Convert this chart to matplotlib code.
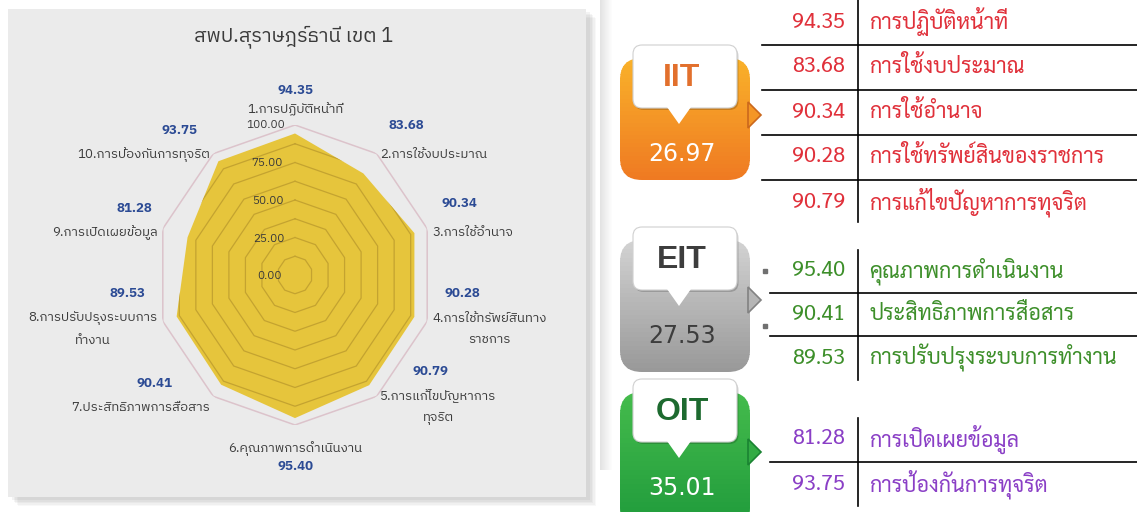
import numpy as np
import matplotlib
matplotlib.use("Agg")
import matplotlib.pyplot as plt
from matplotlib.patches import FancyBboxPatch, Rectangle, Polygon

# data
title = "สพป.สุราษฎร์ธานี เขต 1"
categories = ["1.การปฏิบัติหน้าที่", "2.การใช้งบประมาณ", "3.การใช้อำนาจ",
              "4.การใช้ทรัพย์สินทาง\nราชการ", "5.การแก้ไขปัญหาการ\nทุจริต",
              "6.คุณภาพการดำเนินงาน", "7.ประสิทธิภาพการสื่อสาร",
              "8.การปรับปรุงระบบการ\nทำงาน", "9.การเปิดเผยข้อมูล",
              "10.การป้องกันการทุจริต"]
scores = [94.35, 83.68, 90.34, 90.28, 90.79, 95.40, 90.41, 89.53, 81.28, 93.75]
r_ticks = [0, 25, 50, 75, 100]

groups = ["IIT", "EIT", "OIT"]
group_totals = ["26.97", "27.53", "35.01"]
iit_items = ["การปฏิบัติหน้าที่", "การใช้งบประมาณ", "การใช้อำนาจ",
             "การใช้ทรัพย์สินของราชการ", "การแก้ไขปัญหาการทุจริต"]
iit_vals = [94.35, 83.68, 90.34, 90.28, 90.79]
eit_items = ["คุณภาพการดำเนินงาน", "ประสิทธิภาพการสื่อสาร", "การปรับปรุงระบบการทำงาน"]
eit_vals = [95.40, 90.41, 89.53]
oit_items = ["การเปิดเผยข้อมูล", "การป้องกันการทุจริต"]
oit_vals = [81.28, 93.75]

# value-label horizontal nudges (pixels), one per spoke
value_dx = [0, 9, 9, 12, 33, 0, -38, -12, -5, -13]

W, H = 1137, 512
thai_loopless = ["IBM Plex Sans Thai", "DejaVu Sans"]
thai_looped = ["Sarabun", "DejaVu Sans"]

fig = plt.figure(figsize=(W / 100, H / 100), dpi=100, facecolor="white")

# background canvas in pixel units
bg = fig.add_axes([0, 0, 1, 1])
bg.set_xlim(0, W)
bg.set_ylim(H, 0)
bg.axis("off")

# left panel with soft shadow
for i, a in enumerate([0.05, 0.06, 0.07, 0.08, 0.09]):
    d = 8 - i * 1.5
    bg.add_patch(Rectangle((10 + d, 10 + d), 578, 488, color="#808080", alpha=a, lw=0))
bg.add_patch(Rectangle((8, 9), 578, 488, color="#ebebeb", lw=0))
bg.text(294, 37, title, ha="center", va="center", fontsize=14.5, color="#3a3a3a",
        family=thai_loopless)

# faint shadow strips at the left of the right panel
for i in range(12):
    bg.add_patch(Rectangle((600 + i, 0), 1, 470, color="#c8c8c8", alpha=0.5 * (1 - i / 12), lw=0))

# radar (slightly narrower than tall, as in the source image)
cx, cy, Rx, Ry = 295, 275, 139, 150
rax = fig.add_axes([(cx - Rx) / W, (H - cy - Ry) / H, 2 * Rx / W, 2 * Ry / H], polar=True)
rax.set_aspect("auto")
rax.set_theta_offset(np.pi / 2)
rax.set_theta_direction(-1)
rax.set_ylim(0, 100)
rax.axis("off")
n = len(scores)
theta = np.arange(n) * 2 * np.pi / n
tc = np.append(theta, theta[0])
vals = np.append(scores, scores[0])
fill = rax.fill(tc, vals, color="#e6c53c", lw=0, zorder=2)[0]
for lev in np.arange(12.5, 100, 12.5):
    ln, = rax.plot(tc, [lev] * (n + 1), color="#c4a330", lw=0.9, zorder=3)
    ln.set_clip_path(fill)
rax.plot(tc, [100] * (n + 1), color="#dcc3cb", lw=1.1, zorder=3)

for t in r_ticks:
    rax.annotate(f"{t:.2f}", (0, t), xytext=(-25 - t * 0.04, 0 if t == 100 else -1),
                 textcoords="offset pixels", ha="center", va="center", fontsize=8.5,
                 color="#3a3a3a", zorder=5, family=thai_loopless, annotation_clip=False)

line_px = 23
for k, (th, lab, v) in enumerate(zip(theta, categories, scores)):
    s, c = np.sin(th), np.cos(th)
    nlines = lab.count("\n") + 1
    if abs(s) < 0.1:
        ha = "center"
        va = "bottom" if c > 0 else "top"
        r_lab = 108 if c > 0 else 111
        dy_lab = -4 if c > 0 else 0
    else:
        ha = "left" if s > 0 else "right"
        va = "center"
        r_lab = 104
        dy_lab = -6
    rax.annotate(lab, (th, r_lab), xytext=(0, dy_lab), textcoords="offset pixels",
                 ha=ha, va=va, fontsize=9.5, color="#3c3c3c", family=thai_loopless,
                 multialignment="center", linespacing=1.85, annotation_clip=False)
    if va == "top":
        dy = -(nlines * line_px + 2)
    elif va == "bottom":
        dy = dy_lab + 26
    else:
        gap = 29 if (s > 0 and c > 0) else 24
        dy = dy_lab + (nlines - 1) * line_px / 2 + gap
    rax.annotate(f"{v:.2f}", (th, r_lab), xytext=(value_dx[k], dy), textcoords="offset pixels",
                 ha=ha, va="center", fontsize=9.5, color="#2b4a94", fontweight="bold",
                 family=thai_loopless, annotation_clip=False)


# speech-bubble badges
def badge(x0, y0, y1, colors, label, label_color, total, total_color, arrow_y):
    w = 130
    steps = 30
    top = np.array(matplotlib.colors.to_rgb(colors[0]))
    bot = np.array(matplotlib.colors.to_rgb(colors[1]))
    body = FancyBboxPatch((x0, y0), w, y1 - y0, boxstyle="round,pad=0,rounding_size=22",
                          fc="none", ec="none")
    bg.add_patch(body)
    for i in range(steps):
        f = i / (steps - 1)
        rr = Rectangle((x0, y0 + (y1 - y0) * i / steps), w, (y1 - y0) / steps + 1,
                       color=top * (1 - f) + bot * f, lw=0)
        bg.add_patch(rr)
        rr.set_clip_path(body)
    # arrow on right side
    bg.add_patch(Polygon([[x0 + w - 2, arrow_y - 13], [x0 + w + 11, arrow_y], [x0 + w - 2, arrow_y + 13]],
                         closed=True, fc=(top + bot) / 2, ec=bot * 0.85, lw=1.2))
    # white bubble
    bx0, by0 = x0 + 13, y0 - 13
    bw, bh = 104, 63
    bg.add_patch(FancyBboxPatch((bx0 + 1.5, by0 + 2), bw, bh, boxstyle="round,pad=0,rounding_size=9",
                                fc="#000000", alpha=0.18, ec="none"))
    bg.add_patch(FancyBboxPatch((bx0, by0), bw, bh, boxstyle="round,pad=0,rounding_size=9",
                                fc="white", ec="#d0d0d0", lw=0.8))
    tx = bx0 + bw / 2 - 6
    bg.add_patch(Polygon([[tx - 12, by0 + bh - 1], [tx, by0 + bh + 16], [tx + 12, by0 + bh - 1]],
                         closed=True, fc="white", ec="none"))
    bg.text(bx0 + bw / 2 - 3, by0 + bh / 2 + 1, label, ha="center", va="center", fontsize=23,
            fontweight="bold", color=label_color, family="Liberation Sans")
    bg.text(bx0 + bw / 2 - 3, by0 + bh + 46, total, ha="center", va="center", fontsize=17,
            color=total_color, family="DejaVu Sans")


badge(620, 58, 180, ("#f9b12a", "#ef7a22"), groups[0], "#e2702d", group_totals[0], "white", 115)
badge(620, 240, 372, ("#d2d2d2", "#999999"), groups[1], "#3d3d3d", group_totals[1], "#3d3d3d", 300)
badge(620, 392, 530, ("#44bb4c", "#1f9a3b"), groups[2], "#1d6a2f", group_totals[2], "white", 452)


# tables
def table(items, values, y_rows, line_x0, vtop, vbot, color):
    bg.plot([858, 858], [vtop, vbot], color="black", lw=1.2)
    for i, (it, v) in enumerate(zip(items, values)):
        y = y_rows[i]
        bg.text(845, y, f"{v:.2f}", ha="right", va="center", fontsize=15.5, color=color,
                family=thai_looped)
        bg.text(869, y, it, ha="left", va="center", fontsize=15.5, color=color,
                family=thai_looped)
        if i > 0:
            ym = (y_rows[i - 1] + y) / 2
            bg.plot([line_x0, W], [ym, ym], color="black", lw=1.2)


table(iit_items, iit_vals, [22, 67, 112, 157, 202], 762, 0, 222, "#e0303a")
table(eit_items, eit_vals, [271, 314, 358], 770, 250, 380, "#3d8f2a")
table(oit_items, oit_vals, [439, 484], 770, 418, 506, "#8a3fc6")
bg.plot([765, 765], [271, 326], ls="none", marker="s", ms=2.5, color="#707070")

fig.savefig("out.png", dpi=100, facecolor="white")
